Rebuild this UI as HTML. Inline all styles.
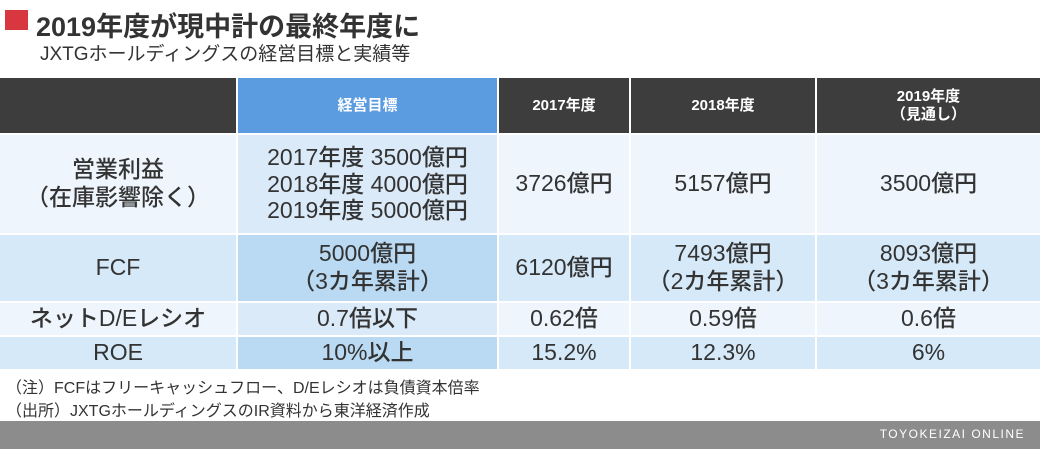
<!DOCTYPE html>
<html><head><meta charset="utf-8"><style>
body{margin:0;width:1040px;height:449px;background:#fff;position:relative;overflow:hidden;font-family:"Liberation Sans","Noto Sans CJK JP",sans-serif;color:#333}
.a{position:absolute;display:flex;align-items:center;justify-content:center;text-align:center;box-sizing:border-box;line-height:1.2}
.h{background:#3d3d3d;color:#fff;font-weight:bold;font-size:15px}
.hb{background:#5b9be0}
.r1{background:#eef5fc}.r1b{background:#dbeaf8}
.r2{background:#d5e9f8}.r2b{background:#b9daf2}
.c{font-size:23px;font-weight:500}
</style></head><body>
<div style="position:absolute;left:5px;top:10px;width:23px;height:20px;background:#d9373f"></div>
<div style="position:absolute;left:36px;top:5px;font-size:27px;font-weight:bold;color:#333;white-space:nowrap">2019年度が現中計の最終年度に</div>
<div style="position:absolute;left:40px;top:39px;font-size:19px;color:#333;white-space:nowrap">JXTGホールディングスの経営目標と実績等</div>

<div class="a h" style="left:0;top:78px;width:236px;height:55px"></div>
<div class="a h hb" style="left:238px;top:78px;width:259px;height:55px">経営目標</div>
<div class="a h" style="left:499px;top:78px;width:130px;height:55px">2017年度</div>
<div class="a h" style="left:631px;top:78px;width:184px;height:55px">2018年度</div>
<div class="a h" style="left:817px;top:78px;width:223px;height:55px">2019年度<br>（見通し）</div>

<div class="a r1 c" style="left:0;top:135px;width:236px;height:98px">営業利益<br>（在庫影響除く）</div>
<div class="a r1b c" style="left:238px;top:135px;width:259px;height:98px;line-height:1.15">2017年度 3500億円<br>2018年度 4000億円<br>2019年度 5000億円</div>
<div class="a r1 c" style="left:499px;top:135px;width:130px;height:98px">3726億円</div>
<div class="a r1 c" style="left:631px;top:135px;width:184px;height:98px">5157億円</div>
<div class="a r1 c" style="left:817px;top:135px;width:223px;height:98px">3500億円</div>

<div class="a r2 c" style="left:0;top:235px;width:236px;height:66px">FCF</div>
<div class="a r2b c" style="left:238px;top:235px;width:259px;height:66px">5000億円<br>（3カ年累計）</div>
<div class="a r2 c" style="left:499px;top:235px;width:130px;height:66px">6120億円</div>
<div class="a r2 c" style="left:631px;top:235px;width:184px;height:66px">7493億円<br>（2カ年累計）</div>
<div class="a r2 c" style="left:817px;top:235px;width:223px;height:66px">8093億円<br>（3カ年累計）</div>

<div class="a r1 c" style="left:0;top:303px;width:236px;height:32px">ネットD/Eレシオ</div>
<div class="a r1b c" style="left:238px;top:303px;width:259px;height:32px">0.7倍以下</div>
<div class="a r1 c" style="left:499px;top:303px;width:130px;height:32px">0.62倍</div>
<div class="a r1 c" style="left:631px;top:303px;width:184px;height:32px">0.59倍</div>
<div class="a r1 c" style="left:817px;top:303px;width:223px;height:32px">0.6倍</div>

<div class="a r2 c" style="left:0;top:337px;width:236px;height:32px">ROE</div>
<div class="a r2b c" style="left:238px;top:337px;width:259px;height:32px">10%以上</div>
<div class="a r2 c" style="left:499px;top:337px;width:130px;height:32px">15.2%</div>
<div class="a r2 c" style="left:631px;top:337px;width:184px;height:32px">12.3%</div>
<div class="a r2 c" style="left:817px;top:337px;width:223px;height:32px">6%</div>

<div style="position:absolute;left:6px;top:374px;font-size:16px;white-space:nowrap">（注）FCFはフリーキャッシュフロー、D/Eレシオは負債資本倍率</div>
<div style="position:absolute;left:6px;top:397px;font-size:16px;white-space:nowrap">（出所）JXTGホールディングスのIR資料から東洋経済作成</div>

<div style="position:absolute;left:0;top:421px;width:1040px;height:28px;background:#8c8c8c"></div>
<div style="position:absolute;right:15px;top:427px;font-size:12px;color:#fff;letter-spacing:1.5px">TOYOKEIZAI ONLINE</div>
</body></html>
